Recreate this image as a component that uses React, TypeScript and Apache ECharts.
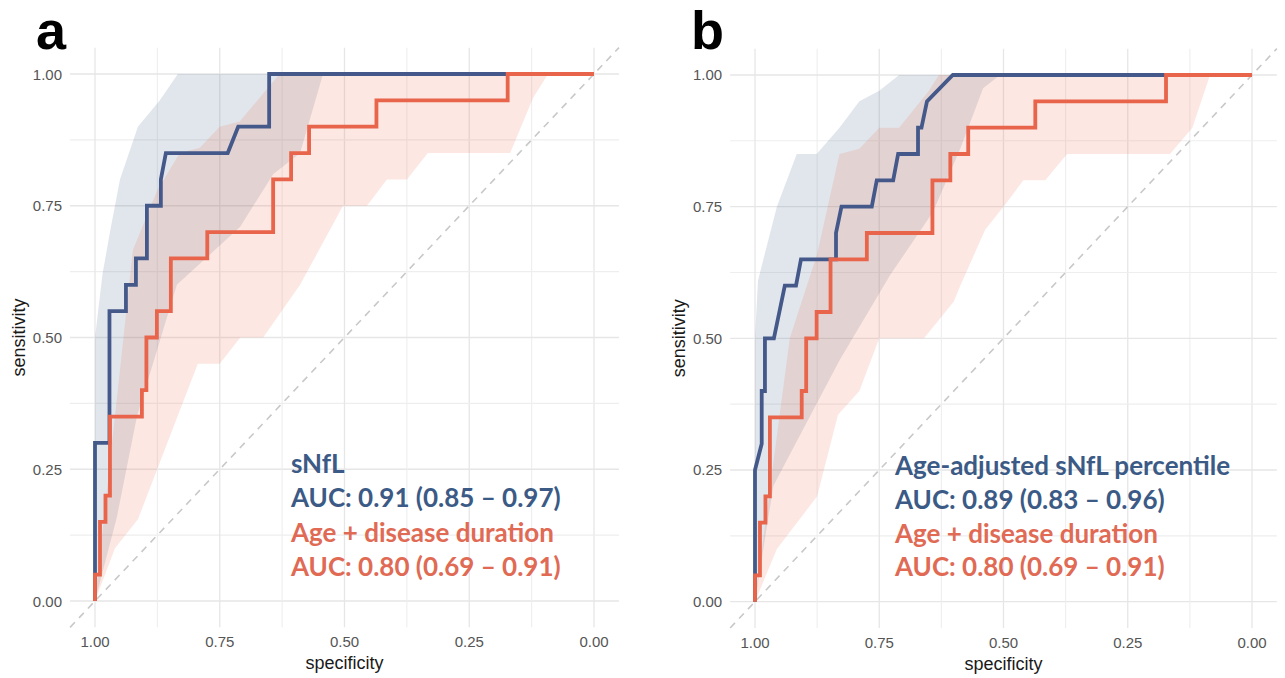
import React, { useEffect, useRef } from "react";
import * as echarts from "echarts";

// ---------- data ----------
const tickValues = [0, 0.25, 0.5, 0.75, 1];
const gridValues = [0, 0.125, 0.25, 0.375, 0.5, 0.625, 0.75, 0.875, 1];
const chanceLine: [number, number][] = [[1.05, -0.05], [-0.05, 1.05]];

// [specificity, sensitivity]
const snflRoc: [number, number][] = [
  [1, 0], [1, 0.3], [0.971, 0.3], [0.971, 0.55], [0.938, 0.55], [0.938, 0.6], [0.918, 0.6],
  [0.918, 0.65], [0.896, 0.65], [0.896, 0.75], [0.868, 0.75], [0.868, 0.8], [0.858, 0.85],
  [0.734, 0.85], [0.713, 0.9], [0.651, 0.9], [0.651, 1.0], [0, 1],
];
const snflPctRoc: [number, number][] = [
  [1, 0], [1, 0.25], [0.9865, 0.3], [0.9865, 0.4], [0.98, 0.4], [0.98, 0.5], [0.962, 0.5],
  [0.94, 0.6], [0.9175, 0.6], [0.9075, 0.65], [0.837, 0.65], [0.837, 0.7], [0.826, 0.75],
  [0.765, 0.75], [0.755, 0.8], [0.722, 0.8], [0.712, 0.85], [0.672, 0.85], [0.672, 0.9],
  [0.665, 0.9], [0.654, 0.95], [0.602, 1.0], [0, 1],
];
const ageDurRoc: [number, number][] = [
  [1, 0], [1, 0.05], [0.99, 0.05], [0.99, 0.15], [0.979, 0.15], [0.979, 0.2], [0.97, 0.2],
  [0.97, 0.35], [0.906, 0.35], [0.906, 0.4], [0.897, 0.4], [0.897, 0.5], [0.876, 0.5],
  [0.876, 0.55], [0.848, 0.55], [0.848, 0.65], [0.775, 0.65], [0.775, 0.7], [0.643, 0.7],
  [0.643, 0.8], [0.607, 0.8], [0.607, 0.85], [0.571, 0.85], [0.571, 0.9], [0.436, 0.9],
  [0.436, 0.95], [0.173, 0.95], [0.173, 1.0], [0, 1],
];

// confidence bands (upper / lower sensitivity vs specificity)
const snflBandUpper: [number, number][] = [
  [1, 0.3], [1, 0.5], [0.985, 0.62], [0.97, 0.7], [0.95, 0.8], [0.914, 0.9], [0.87, 0.95], [0.834, 1.0], [0, 1],
];
const snflBandLower: [number, number][] = [
  [1, 0], [0.956, 0.16], [0.916, 0.35], [0.836, 0.6], [0.709, 0.71], [0.643, 0.81], [0.589, 0.85], [0.543, 1.0], [0, 1],
];
const ageDurBandUpperA: [number, number][] = [
  [1, 0], [0.924, 0.666], [0.875, 0.78], [0.83, 0.85], [0.79, 0.86], [0.75, 0.9], [0.71, 0.91], [0.63, 1.0], [0, 1],
];
const ageDurBandLowerA: [number, number][] = [
  [1, 0], [0.96, 0.1], [0.914, 0.155], [0.794, 0.45], [0.75, 0.45], [0.709, 0.5], [0.663, 0.5], [0.589, 0.6],
  [0.503, 0.75], [0.455, 0.75], [0.415, 0.8], [0.375, 0.8], [0.333, 0.85], [0.168, 0.85], [0.122, 0.955],
  [0.092, 1.0], [0, 1],
];
const snflPctBandUpper: [number, number][] = [
  [1, 0.25], [1, 0.5], [0.994, 0.61], [0.956, 0.75], [0.916, 0.85], [0.876, 0.85], [0.83, 0.9], [0.79, 0.95],
  [0.75, 0.97], [0.71, 1.0], [0, 1],
];
const snflPctBandLower: [number, number][] = [
  [1, 0], [0.963, 0.22], [0.896, 0.34], [0.829, 0.46], [0.728, 0.62], [0.642, 0.74], [0.587, 0.86],
  [0.541, 0.975], [0.507, 1.0], [0, 1],
];
const ageDurBandUpperB: [number, number][] = [
  [1, 0], [0.93, 0.5], [0.875, 0.66], [0.83, 0.85], [0.79, 0.86], [0.75, 0.9], [0.71, 0.9], [0.65, 0.97], [0.63, 1.0], [0, 1],
];
const ageDurBandLowerB: [number, number][] = [
  [1, 0], [0.956, 0.1], [0.875, 0.2], [0.833, 0.355], [0.79, 0.4], [0.75, 0.5], [0.66, 0.5], [0.6, 0.57],
  [0.587, 0.6], [0.537, 0.706], [0.5, 0.75], [0.46, 0.8], [0.416, 0.8], [0.372, 0.85], [0.165, 0.85],
  [0.12, 0.9], [0.088, 0.99], [0.085, 1.0], [0, 1],
];

const labelsA = ["sNfL", "AUC: 0.91 (0.85 – 0.97)", "Age + disease duration", "AUC: 0.80 (0.69 – 0.91)"];
const labelsB = ["Age-adjusted sNfL percentile", "AUC: 0.89 (0.83 – 0.96)", "Age + disease duration", "AUC: 0.80 (0.69 – 0.91)"];
const panelLetters = ["a", "b"];

// ---------- styles ----------
const BLUE_LINE = "#44598A";
const RED_LINE = "#E8644A";
const BLUE_TEXT = "#3B5A85";
const RED_TEXT = "#E06A54";
const BLUE_BAND = "rgba(90,115,150,0.18)";
const RED_BAND = "rgba(235,110,85,0.17)";
const AXIS_FONT = '"Liberation Sans", Arial, sans-serif';
const NOTE_FONT = 'Lato, "Open Sans", sans-serif';

function gridSeries(i: number) {
  return {
    type: "custom",
    xAxisIndex: i,
    yAxisIndex: i,
    silent: true,
    z: 0,
    data: gridValues.map((v) => [v, v]),
    renderItem: (params: any, api: any) => {
      const v = api.value(0);
      const cs = params.coordSys;
      const p = api.coord([v, v]);
      const major = Math.abs(v * 4 - Math.round(v * 4)) < 1e-6;
      const st = { stroke: major ? "#e6e6e6" : "#eeeeee", lineWidth: major ? 1.3 : 1.1 };
      return {
        type: "group",
        children: [
          { type: "line", shape: { x1: p[0], y1: cs.y, x2: p[0], y2: cs.y + cs.height }, style: st },
          { type: "line", shape: { x1: cs.x, y1: p[1], x2: cs.x + cs.width, y2: p[1] }, style: st },
        ],
      };
    },
  };
}

function bandSeries(i: number, upper: [number, number][], lower: [number, number][], fill: string, z: number) {
  return {
    type: "custom",
    xAxisIndex: i,
    yAxisIndex: i,
    silent: true,
    z,
    data: [[0.5, 0.5]],
    renderItem: (_params: any, api: any) => {
      const pts = upper.concat(lower.slice().reverse()).map((p) => api.coord(p));
      return { type: "polygon", shape: { points: pts }, style: { fill } };
    },
  };
}

function lineSeries(i: number, data: [number, number][], color: string, z: number) {
  return {
    type: "line",
    xAxisIndex: i,
    yAxisIndex: i,
    data,
    showSymbol: false,
    symbol: "none",
    silent: true,
    z,
    lineStyle: { color, width: 3.8, join: "miter" },
  };
}

function axes(i: number) {
  const label = {
    customValues: tickValues,
    formatter: (v: number) => v.toFixed(2),
    color: "#555555",
    fontSize: 15,
    fontFamily: AXIS_FONT,
  };
  const x = {
    gridIndex: i,
    type: "value",
    inverse: true,
    min: -0.05,
    max: 1.05,
    axisLine: { show: false },
    axisTick: { show: false },
    splitLine: { show: false },
    axisLabel: { ...label, margin: 7 },
    name: "specificity",
    nameLocation: "middle",
    nameGap: 27,
    nameTextStyle: { color: "#1a1a1a", fontSize: 18, fontFamily: AXIS_FONT },
  };
  const y = {
    gridIndex: i,
    type: "value",
    min: -0.05,
    max: 1.05,
    axisLine: { show: false },
    axisTick: { show: false },
    splitLine: { show: false },
    axisLabel: { ...label, margin: 8 },
    name: "sensitivity",
    nameLocation: "middle",
    nameRotate: 90,
    nameGap: 42,
    nameTextStyle: { color: "#1a1a1a", fontSize: 18, fontFamily: AXIS_FONT },
  };
  return { x, y };
}

function noteTexts(labels: string[], x: number, ys: number[]) {
  return labels.map((t, k) => ({
    type: "text",
    x,
    y: ys[k],
    z: 100,
    silent: true,
    style: {
      text: t,
      fill: k < 2 ? BLUE_TEXT : RED_TEXT,
      font: `bold 26px ${NOTE_FONT}`,
      verticalAlign: "middle",
      align: "left",
    },
  }));
}

function buildOption() {
  const a = axes(0);
  const b = axes(1);
  return {
    animation: false,
    backgroundColor: "#ffffff",
    grid: [
      { left: 70.05, top: 47.65, width: 548.9, height: 579.7 },
      { left: 730.15, top: 48.65, width: 546.7, height: 579.7 },
    ],
    xAxis: [a.x, b.x],
    yAxis: [a.y, b.y],
    series: [
      gridSeries(0),
      bandSeries(0, snflBandUpper, snflBandLower, BLUE_BAND, 1),
      bandSeries(0, ageDurBandUpperA, ageDurBandLowerA, RED_BAND, 2),
      {
        type: "line", xAxisIndex: 0, yAxisIndex: 0, data: chanceLine, symbol: "none", silent: true, z: 3,
        lineStyle: { color: "#c8c8c8", width: 1.6, type: [7, 6] },
      },
      lineSeries(0, snflRoc, BLUE_LINE, 4),
      lineSeries(0, ageDurRoc, RED_LINE, 5),

      gridSeries(1),
      bandSeries(1, snflPctBandUpper, snflPctBandLower, BLUE_BAND, 1),
      bandSeries(1, ageDurBandUpperB, ageDurBandLowerB, RED_BAND, 2),
      {
        type: "line", xAxisIndex: 1, yAxisIndex: 1, data: chanceLine, symbol: "none", silent: true, z: 3,
        lineStyle: { color: "#c8c8c8", width: 1.6, type: [7, 6] },
      },
      lineSeries(1, snflPctRoc, BLUE_LINE, 4),
      lineSeries(1, ageDurRoc, RED_LINE, 5),
    ],
    graphic: [
      {
        type: "text", x: 36, y: 30, z: 100, silent: true,
        style: { text: panelLetters[0], fill: "#000", font: `bold 54px ${AXIS_FONT}`, verticalAlign: "middle" },
      },
      {
        type: "text", x: 691, y: 30, z: 100, silent: true,
        style: { text: panelLetters[1], fill: "#000", font: `bold 54px ${AXIS_FONT}`, verticalAlign: "middle" },
      },
      ...noteTexts(labelsA, 291, [463, 497, 532, 566]),
      ...noteTexts(labelsB, 895, [465, 499, 533, 566]),
    ],
  };
}

export default function App() {
  const ref = useRef<HTMLDivElement>(null);
  useEffect(() => {
    if (!ref.current) return;
    const chart = echarts.init(ref.current, null, { renderer: "svg" });
    chart.setOption(buildOption() as any);
    return () => chart.dispose();
  }, []);
  return (
    <div
      ref={ref}
      style={{ position: "fixed", left: 0, top: 0, width: 1285, height: 678, background: "#ffffff" }}
    />
  );
}
